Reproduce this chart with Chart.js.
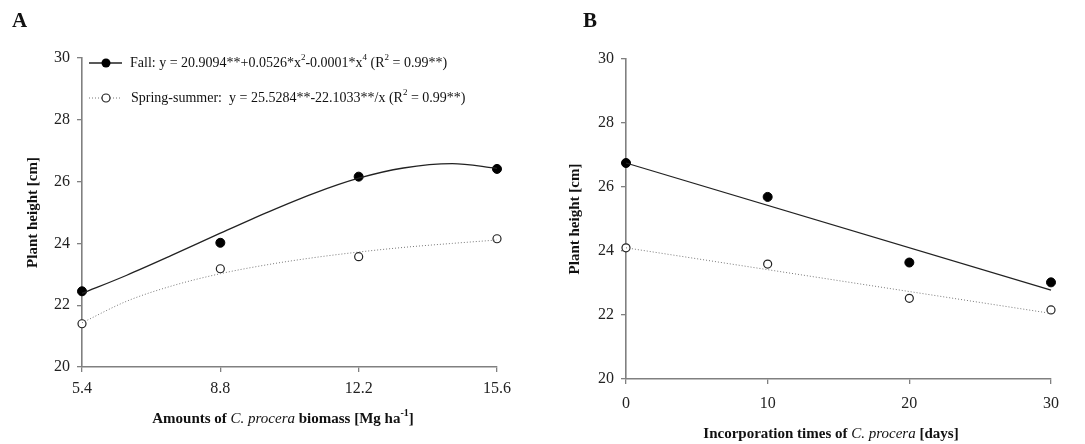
<!DOCTYPE html>
<html>
<head>
<meta charset="utf-8">
<script src="https://cdn.jsdelivr.net/npm/chart.js@4"></script>
<style>
  html, body { margin: 0; padding: 0; background: #fff; }
  #wrap { position: relative; width: 1085px; height: 444px; overflow: hidden; }
  .panel { position: absolute; top: 0; height: 444px; }
</style>
</head>
<body>
<div id="wrap">
  <div class="panel" style="left:0;width:540px"><canvas id="cA" width="540" height="444"></canvas></div>
  <div class="panel" style="left:540px;width:545px"><canvas id="cB" width="545" height="444"></canvas></div>
</div>
<script>
// ---------- DATA ----------
const yTicks = [20, 22, 24, 26, 28, 30];

// Panel A: amounts of biomass (Mg ha-1)
const xTicksA = [5.4, 8.8, 12.2, 15.6];
const obsAx = [5.4, 8.8, 12.2, 15.6];
const fallAy = [22.45, 24.02, 26.16, 26.41];
const springAy = [21.40, 23.18, 23.57, 24.15];
const fitAx = [5.4, 6.5, 7.6, 8.8, 10.0, 11.1, 12.2, 13.3, 14.5, 15.6];
const fitFallAy = [22.38, 22.97, 23.61, 24.33, 25.03, 25.62, 26.11, 26.44, 26.58, 26.43];
const fitSpringAy = [21.43, 22.13, 22.62, 23.02, 23.32, 23.54, 23.72, 23.87, 24.00, 24.11];

// Panel B: incorporation times (days)
const xTicksB = [0, 10, 20, 30];
const obsBx = [0, 10, 20, 30];
const fallBy = [26.75, 25.69, 23.64, 23.02];
const springBy = [24.10, 23.59, 22.52, 22.16];
const fitBx = [0, 30];
const fitFallBy = [26.75, 22.78];
const fitSpringBy = [24.10, 22.05];

// ---------- TEXT ----------
const FONT = '"Liberation Serif", "Times New Roman", serif';
const legendA = [
  [["Fall: y = 20.9094**+0.0526*x", "n"], ["2", "sup"], ["-0.0001*x", "n"], ["4", "sup"], [" (R", "n"], ["2", "sup"], [" = 0.99**)", "n"]],
  [["Spring-summer:  y = 25.5284**-22.1033**/x (R", "n"], ["2", "sup"], [" = 0.99**)", "n"]]
];
const legendB = [
  [["Fall: y = 26.7510**-0.1324*x (R", "n"], ["2", "sup"], [" = 0.96*)", "n"]],
  [["Spring-summer:  y = 24.1010**-0.0684*x (R", "n"], ["2", "sup"], [" = 0.96*)", "n"]]
];
const xTitleA = [["Amounts of ", "b"], ["C. procera", "i"], [" biomass [Mg ha", "b"], ["-1", "bsup"], ["]", "b"]];
const xTitleB = [["Incorporation times of ", "b"], ["C. procera", "i"], [" [days]", "b"]];
const yTitle = "Plant height [cm]";

function fontFor(style, s) {
  if (style === "b") return "bold " + s + "px " + FONT;
  if (style === "i") return "italic " + s + "px " + FONT;
  if (style === "sup") return Math.round(s * 0.65) + "px " + FONT;
  if (style === "bsup") return "bold " + Math.round(s * 0.65) + "px " + FONT;
  return s + "px " + FONT;
}
function drawRuns(ctx, runs, x, y, s, align) {
  ctx.save();
  ctx.textBaseline = "middle";
  ctx.textAlign = "left";
  let total = 0;
  runs.forEach(r => { ctx.font = fontFor(r[1], s); total += ctx.measureText(r[0]).width; });
  let cx = align === "center" ? x - total / 2 : x;
  runs.forEach(r => {
    ctx.font = fontFor(r[1], s);
    const up = (r[1] === "sup" || r[1] === "bsup") ? -s * 0.38 : 0;
    ctx.fillText(r[0], cx, y + up);
    cx += ctx.measureText(r[0]).width;
  });
  ctx.restore();
}

function pts(xs, ys) { return xs.map((x, i) => ({ x: x, y: ys[i] })); }

function makeChart(id, cfg) {
  const deco = {
    id: "deco",
    afterDraw(chart) {
      const ctx = chart.ctx;
      ctx.save();
      ctx.fillStyle = "#111";
      ctx.font = "bold 21px " + FONT;
      ctx.textBaseline = "middle";
      ctx.textAlign = "left";
      ctx.fillText(cfg.letter, cfg.letterX, 22);
      ctx.save();
      ctx.translate(cfg.yTitleX, (chart.chartArea.top + chart.chartArea.bottom) / 2);
      ctx.rotate(-Math.PI / 2);
      ctx.font = "bold 15px " + FONT;
      ctx.textAlign = "center";
      ctx.fillText(yTitle, 0, 0);
      ctx.restore();
      drawRuns(ctx, cfg.xTitle, cfg.xTitleX, cfg.xTitleY, 15, "center");
      const L = cfg.legend;
      ctx.strokeStyle = "#222"; ctx.lineWidth = 1.3; ctx.setLineDash([]);
      ctx.beginPath(); ctx.moveTo(L.x0, L.y1); ctx.lineTo(L.x1, L.y1); ctx.stroke();
      ctx.fillStyle = "#000";
      ctx.beginPath(); ctx.arc(L.mx, L.y1, 4.5, 0, Math.PI * 2); ctx.fill();
      ctx.strokeStyle = "#777"; ctx.lineWidth = 1; ctx.setLineDash([1, 2]);
      ctx.beginPath(); ctx.moveTo(L.x0, L.y2); ctx.lineTo(L.x1, L.y2); ctx.stroke();
      ctx.setLineDash([]);
      ctx.fillStyle = "#fff"; ctx.strokeStyle = "#222"; ctx.lineWidth = 1.2;
      ctx.beginPath(); ctx.arc(L.mx, L.y2, 4, 0, Math.PI * 2); ctx.fill(); ctx.stroke();
      ctx.fillStyle = "#111";
      drawRuns(ctx, cfg.legendText[0], L.tx1, L.y1, 14, "left");
      drawRuns(ctx, cfg.legendText[1], L.tx2, L.y2, 14, "left");
      ctx.restore();
    }
  };
  return new Chart(document.getElementById(id), {
    type: "scatter",
    data: {
      datasets: [
        { data: pts(cfg.fitX, cfg.fitFall), showLine: true, borderColor: "#222", borderWidth: 1.3, pointRadius: 0, cubicInterpolationMode: "monotone", fill: false },
        { data: pts(cfg.fitX, cfg.fitSpring), showLine: true, borderColor: "#777", borderWidth: 1, borderDash: [1, 2], pointRadius: 0, cubicInterpolationMode: "monotone", fill: false },
        { data: pts(cfg.obsX, cfg.fall), showLine: false, pointRadius: 4.5, pointBackgroundColor: "#000", pointBorderColor: "#000", pointBorderWidth: 1 },
        { data: pts(cfg.obsX, cfg.spring), showLine: false, pointRadius: 4, pointBackgroundColor: "#fff", pointBorderColor: "#222", pointBorderWidth: 1.2 }
      ]
    },
    options: {
      responsive: false,
      animation: false,
      clip: false,
      layout: { padding: { left: 0, top: cfg.top, right: cfg.right, bottom: 0 } },
      plugins: { legend: { display: false }, tooltip: { enabled: false } },
      scales: {
        x: {
          type: "linear",
          min: cfg.xTicks[0],
          max: cfg.xTicks[cfg.xTicks.length - 1],
          afterBuildTicks(scale) { scale.ticks = cfg.xTicks.map(v => ({ value: v })); },
          afterFit(scale) { scale.height = cfg.xH; },
          ticks: { font: { family: FONT, size: 16 }, color: "#222", padding: cfg.xPad, autoSkip: false, maxRotation: 0,
                   callback: v => String(v) },
          grid: { display: true, drawOnChartArea: false, drawTicks: true, tickLength: 5, color: "#808080", lineWidth: 1.3 },
          border: { display: true, color: "#808080", width: 1.6 }
        },
        y: {
          type: "linear",
          min: 20, max: 30,
          afterBuildTicks(scale) { scale.ticks = yTicks.map(v => ({ value: v })); },
          afterFit(scale) { scale.width = cfg.yW; },
          ticks: { font: { family: FONT, size: 16 }, color: "#222", padding: 7 },
          grid: { display: true, drawOnChartArea: false, drawTicks: true, tickLength: 5, color: "#808080", lineWidth: 1.3 },
          border: { display: true, color: "#808080", width: 1.6 }
        }
      }
    },
    plugins: [deco]
  });
}

makeChart("cA", {
  letter: "A", letterX: 12, yTitleX: 33, xTitle: xTitleA, xTitleX: 283, xTitleY: 419,
  legendText: legendA,
  legend: { x0: 89, x1: 122, mx: 106, y1: 63, y2: 98, tx1: 130, tx2: 131 },
  top: 58, right: 43, yW: 82, xH: 77, xPad: 7,
  xTicks: xTicksA, obsX: obsAx, fall: fallAy, spring: springAy,
  fitX: fitAx, fitFall: fitFallAy, fitSpring: fitSpringAy
});
makeChart("cB", {
  letter: "B", letterX: 43, yTitleX: 35, xTitle: xTitleB, xTitleX: 291, xTitleY: 434,
  legendText: legendB,
  legend: { x0: 633, x1: 667, mx: 650, y1: 65, y2: 100, tx1: 678, tx2: 680 },
  top: 59, right: 34, yW: 86, xH: 65, xPad: 10,
  xTicks: xTicksB, obsX: obsBx, fall: fallBy, spring: springBy,
  fitX: fitBx, fitFall: fitFallBy, fitSpring: fitSpringBy
});
</script>
</body>
</html>
